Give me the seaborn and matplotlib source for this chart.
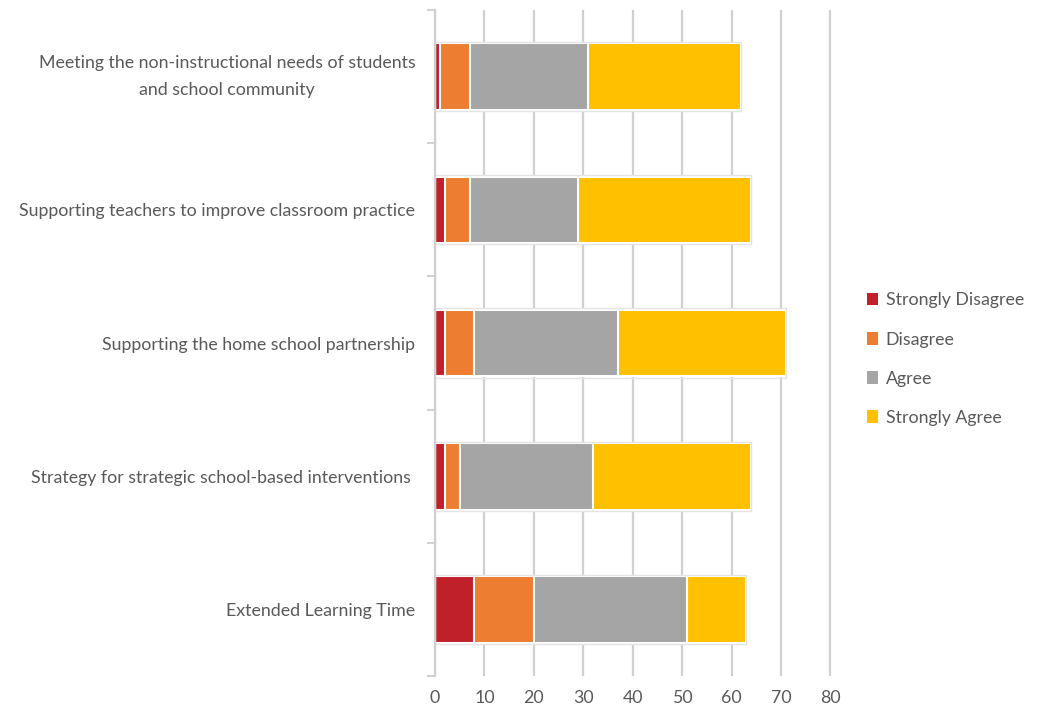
import numpy as np
import pandas as pd
import matplotlib
matplotlib.use("Agg")
import matplotlib.pyplot as plt
import seaborn as sns
from matplotlib.patches import Patch
from matplotlib.ticker import FixedLocator

# Survey items, top to bottom
categories = [
    "Meeting the non-instructional needs of students\nand school community",
    "Supporting teachers to improve classroom practice",
    "Supporting the home school partnership",
    "Strategy for strategic school-based interventions ",
    "Extended Learning Time",
]
responses = ["Strongly Disagree", "Disagree", "Agree", "Strongly Agree"]

# Response counts per item
strongly_disagree = [1, 2, 2, 2, 8]
disagree = [6, 5, 6, 3, 12]
agree = [24, 22, 29, 27, 31]
strongly_agree = [31, 35, 34, 32, 12]

x_ticks = [0, 10, 20, 30, 40, 50, 60, 70, 80]
colors = ["#C0202A", "#ED7D31", "#A5A5A5", "#FFC000"]

sns.set_theme(style="white")
plt.rcParams["font.family"] = ["Lato", "DejaVu Sans"]
text_color = "#595959"
line_color = "#D0D0D0"
fsize = 12.8

df = pd.DataFrame({
    "item": categories,
    "Strongly Disagree": strongly_disagree,
    "Disagree": disagree,
    "Agree": agree,
    "Strongly Agree": strongly_agree,
})
cum = df[responses].cumsum(axis=1)

fig = plt.figure(figsize=(10.38, 7.14), dpi=100)
ax = fig.add_axes([0.419, 0.053, 0.8015 - 0.419, 0.986 - 0.053])

# Stacked bars: draw running totals from the largest down so each segment shows
for resp, col in reversed(list(zip(responses, colors))):
    sns.barplot(
        x=cum[resp], y=df["item"], order=categories, orient="h",
        color=col, saturation=1, width=0.5,
        edgecolor="white", linewidth=1.5, ax=ax,
    )

# faint outline around each full bar
sns.barplot(
    x=cum["Strongly Agree"], y=df["item"], order=categories, orient="h",
    fill=False, width=0.52, edgecolor="#E4E4E4", linewidth=1.0, ax=ax,
)

ax.set_xlim(0, 80.3)
ax.set_ylim(4.5, -0.5)
ax.set_xticks(x_ticks)
ax.set_xticklabels([str(t) for t in x_ticks])
ax.set_xlabel("")
ax.set_ylabel("")

ax.xaxis.grid(True, color=line_color, linewidth=1.6)
ax.yaxis.grid(False)
ax.set_axisbelow(True)

for side in ["top", "right", "bottom"]:
    ax.spines[side].set_visible(False)
ax.spines["left"].set_color(line_color)
ax.spines["left"].set_linewidth(1.6)

ax.yaxis.set_minor_locator(FixedLocator(np.arange(-0.5, 5.0, 1.0)))
ax.tick_params(axis="y", which="minor", length=6, width=1.4, color=line_color, left=True)
ax.tick_params(axis="y", which="major", length=0, pad=14, labelsize=fsize, labelcolor=text_color)
ax.tick_params(axis="x", which="major", length=0, pad=10, labelsize=fsize, labelcolor=text_color)
for lbl in ax.get_yticklabels():
    lbl.set_multialignment("center")
    lbl.set_linespacing(1.85)
    if "\n" in lbl.get_text():
        lbl.set_verticalalignment("center")

handles = [Patch(facecolor=c, edgecolor="none") for c in colors]
fig.legend(
    handles, responses, loc="center left", bbox_to_anchor=(0.82, 0.497),
    frameon=False, fontsize=fsize, labelcolor=text_color,
    handlelength=0.6, handleheight=0.7, handletextpad=0.45, labelspacing=1.3,
)

fig.savefig("out.png", dpi=100, facecolor="white")
